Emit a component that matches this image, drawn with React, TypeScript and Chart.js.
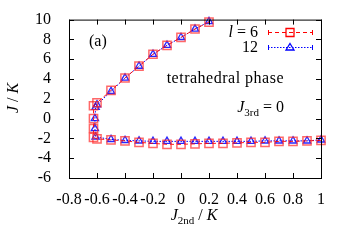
import React, { useEffect, useRef } from "react";
import { Chart, registerables } from "chart.js";
Chart.register(...registerables);

// l = 6 (red squares)
const j2ndL6 = [0.2, 0.1, 0.0, -0.1, -0.2, -0.3, -0.4, -0.5, -0.6, -0.625, -0.625, -0.625, -0.625, -0.6, -0.5, -0.4, -0.3, -0.2, -0.1, 0.0, 0.1, 0.2, 0.3, 0.4, 0.5, 0.6, 0.7, 0.8, 0.9, 1.0];
const jL6 = [9.75, 9.05, 8.2, 7.4, 6.5, 5.3, 4.1, 2.85, 1.6, 1.3, 0.0, -1.0, -1.9, -2.05, -2.15, -2.25, -2.4, -2.5, -2.6, -2.6, -2.55, -2.5, -2.5, -2.45, -2.4, -2.4, -2.3, -2.3, -2.25, -2.2];
// l = 12 (blue triangles)
const j2ndL12 = [0.2, 0.1, 0.0, -0.1, -0.2, -0.3, -0.4, -0.5, -0.6, -0.61, -0.615, -0.615, -0.61, -0.5, -0.4, -0.3, -0.2, -0.1, 0.0, 0.1, 0.2, 0.3, 0.4, 0.5, 0.6, 0.7, 0.8, 0.9, 1.0];
const jL12 = [9.8, 9.05, 8.2, 7.4, 6.5, 5.3, 4.1, 2.75, 1.4, 1.15, 0.0, -1.0, -1.85, -2.1, -2.2, -2.25, -2.3, -2.3, -2.3, -2.3, -2.3, -2.3, -2.3, -2.3, -2.25, -2.25, -2.25, -2.25, -2.15];

const xTicks = [-0.8, -0.6, -0.4, -0.2, 0, 0.2, 0.4, 0.6, 0.8, 1];
const yTicks = [-6, -4, -2, 0, 2, 4, 6, 8, 10];

const legendLabels = ["6", "12"];

const SERIF = "'Liberation Serif', 'DejaVu Serif', serif";
const FS = 16;

type Run = { t: string; italic?: boolean; size: number; dy?: number };

function runsWidth(ctx: CanvasRenderingContext2D, runs: Run[]) {
  let w = 0;
  for (const r of runs) {
    ctx.font = `${r.italic ? "italic " : ""}${r.size}px ${SERIF}`;
    w += ctx.measureText(r.t).width;
  }
  return w;
}
function drawRuns(ctx: CanvasRenderingContext2D, runs: Run[], x: number, y: number) {
  let cx = x;
  for (const r of runs) {
    ctx.font = `${r.italic ? "italic " : ""}${r.size}px ${SERIF}`;
    ctx.fillText(r.t, cx, y + (r.dy || 0));
    cx += ctx.measureText(r.t).width;
  }
}

const decor = {
  id: "decor",
  afterDraw(chart: any) {
    const ctx: CanvasRenderingContext2D = chart.ctx;
    const { left, right, top, bottom } = chart.chartArea;
    const xs = chart.scales.x;
    const ys = chart.scales.y;
    ctx.save();
    ctx.strokeStyle = "#000";
    ctx.lineWidth = 1;
    ctx.setLineDash([]);
    ctx.strokeRect(left + 0.5, top + 0.5, right - left, bottom - top);
    const tl = 5;
    ctx.beginPath();
    for (const v of xTicks) {
      const px = Math.round(xs.getPixelForValue(v)) + 0.5;
      ctx.moveTo(px, bottom);
      ctx.lineTo(px, bottom - tl);
      ctx.moveTo(px, top);
      ctx.lineTo(px, top + tl);
    }
    for (const v of yTicks) {
      const py = Math.round(ys.getPixelForValue(v)) + 0.5;
      ctx.moveTo(left, py);
      ctx.lineTo(left + tl, py);
      ctx.moveTo(right, py);
      ctx.lineTo(right - tl, py);
    }
    ctx.stroke();

    ctx.fillStyle = "#000";
    ctx.textBaseline = "alphabetic";
    ctx.textAlign = "left";
    // (a)
    drawRuns(ctx, [{ t: "(a)", size: FS }], 89, 46);
    // tetrahedral phase (right aligned)
    (ctx as any).letterSpacing = "0.5px";
    const tp: Run[] = [{ t: "tetrahedral phase", size: FS }];
    const tpw = runsWidth(ctx, tp);
    drawRuns(ctx, tp, 284 - tpw, 83);
    (ctx as any).letterSpacing = "0px";
    // J_3rd = 0
    const j3: Run[] = [
      { t: "J", italic: true, size: FS },
      { t: "3rd", size: 11, dy: 4 },
      { t: " = 0", size: FS },
    ];
    const j3w = runsWidth(ctx, j3);
    drawRuns(ctx, j3, 284 - j3w, 112);

    // legend
    const lx0 = 268, lx1 = 312, lxm = 290;
    const rows = [
      { y: 32, color: "#ff0000", dash: [4, 3] },
      { y: 47, color: "#0000ff", dash: [1.5, 1.5] },
    ];
    rows.forEach((r, i) => {
      ctx.strokeStyle = r.color;
      ctx.lineWidth = 1;
      ctx.setLineDash(r.dash);
      ctx.beginPath();
      ctx.moveTo(lx0, r.y + 0.5);
      ctx.lineTo(lx1, r.y + 0.5);
      ctx.stroke();
      ctx.setLineDash([]);
      ctx.beginPath();
      ctx.moveTo(lx0 + 0.5, r.y - 2);
      ctx.lineTo(lx0 + 0.5, r.y + 3);
      ctx.moveTo(lx1 + 0.5, r.y - 2);
      ctx.lineTo(lx1 + 0.5, r.y + 3);
      ctx.stroke();
      ctx.lineWidth = 1.3;
      ctx.beginPath();
      if (i === 0) {
        ctx.rect(lxm - 4, r.y - 3.5, 8, 8);
      } else {
        ctx.moveTo(lxm, r.y - 3.5);
        ctx.lineTo(lxm + 4, r.y + 3);
        ctx.lineTo(lxm - 4, r.y + 3);
        ctx.closePath();
      }
      ctx.stroke();
      ctx.fillStyle = "#000";
      const runs: Run[] = i === 0
        ? [{ t: "l", italic: true, size: FS }, { t: " = " + legendLabels[0], size: FS }]
        : [{ t: legendLabels[1], size: FS }];
      const w = runsWidth(ctx, runs);
      drawRuns(ctx, runs, 258 - w, r.y + 5);
    });

    // y title
    ctx.save();
    ctx.translate(18, 98);
    ctx.rotate(-Math.PI / 2);
    const yRuns: Run[] = [
      { t: "J", italic: true, size: FS },
      { t: " / ", size: FS },
      { t: "K", italic: true, size: FS },
    ];
    const yw = runsWidth(ctx, yRuns);
    ctx.fillStyle = "#000";
    drawRuns(ctx, yRuns, -yw / 2, 0);
    ctx.restore();

    // x title
    const xRuns: Run[] = [
      { t: "J", italic: true, size: FS },
      { t: "2nd", size: 11, dy: 4 },
      { t: " / ", size: FS },
      { t: "K", italic: true, size: FS },
    ];
    const xw = runsWidth(ctx, xRuns);
    drawRuns(ctx, xRuns, 194 - xw / 2, 220);
    ctx.restore();
  },
};

export default function App() {
  const ref = useRef<HTMLCanvasElement | null>(null);
  useEffect(() => {
    if (!ref.current) return;
    const fmt = (v: any) => {
      const n = Math.round(Number(v) * 10) / 10;
      return String(n);
    };
    const chart = new Chart(ref.current, {
      type: "scatter",
      data: {
        datasets: [
          {
            label: "l = 6",
            data: j2ndL6.map((x, i) => ({ x, y: jL6[i] })),
            showLine: true,
            borderColor: "rgba(255,0,0,0.9)",
            borderWidth: 1,
            borderDash: [4, 3],
            pointStyle: "rect",
            pointRadius: 5.8,
            pointBorderWidth: 1.5,
            pointBorderColor: "rgba(255,40,40,0.7)",
            pointBackgroundColor: "rgba(255,255,255,0)",
            clip: false,
          } as any,
          {
            label: "12",
            data: j2ndL12.map((x, i) => ({ x, y: jL12[i] })),
            showLine: true,
            borderColor: "#0000ff",
            borderWidth: 1,
            borderDash: [1.5, 1.5],
            pointStyle: "triangle",
            pointRadius: 4.2,
            pointBorderWidth: 1.3,
            pointBorderColor: "rgba(0,0,255,0.85)",
            pointBackgroundColor: "rgba(255,255,255,0)",
            clip: false,
          } as any,
        ],
      },
      options: {
        animation: false,
        responsive: false,
        maintainAspectRatio: false,
        layout: { padding: { top: 18, right: 29, left: 0, bottom: 0 } },
        plugins: { legend: { display: false }, tooltip: { enabled: false }, title: { display: false } },
        scales: {
          x: {
            type: "linear",
            min: -0.8,
            max: 1,
            afterBuildTicks: (s: any) => { s.ticks = xTicks.map((v) => ({ value: v })); },
            afterFit: (s: any) => { s.height = 67; },
            grid: { display: false },
            border: { display: false },
            ticks: { color: "#000", padding: 4, maxRotation: 0, autoSkip: false, font: { family: SERIF, size: FS }, callback: fmt },
          },
          y: {
            type: "linear",
            min: -6,
            max: 10,
            afterBuildTicks: (s: any) => { s.ticks = yTicks.map((v) => ({ value: v })); },
            afterFit: (s: any) => { s.width = 69; },
            grid: { display: false },
            border: { display: false },
            ticks: { color: "#000", padding: 10, autoSkip: false, font: { family: SERIF, size: FS }, callback: fmt },
          },
        },
      } as any,
      plugins: [decor],
    });
    return () => chart.destroy();
  }, []);
  return (
    <div style={{ position: "fixed", left: 0, top: 0, width: 350, height: 245, background: "#fff" }}>
      <canvas ref={ref} width={350} height={245} style={{ width: 350, height: 245 }} />
    </div>
  );
}
